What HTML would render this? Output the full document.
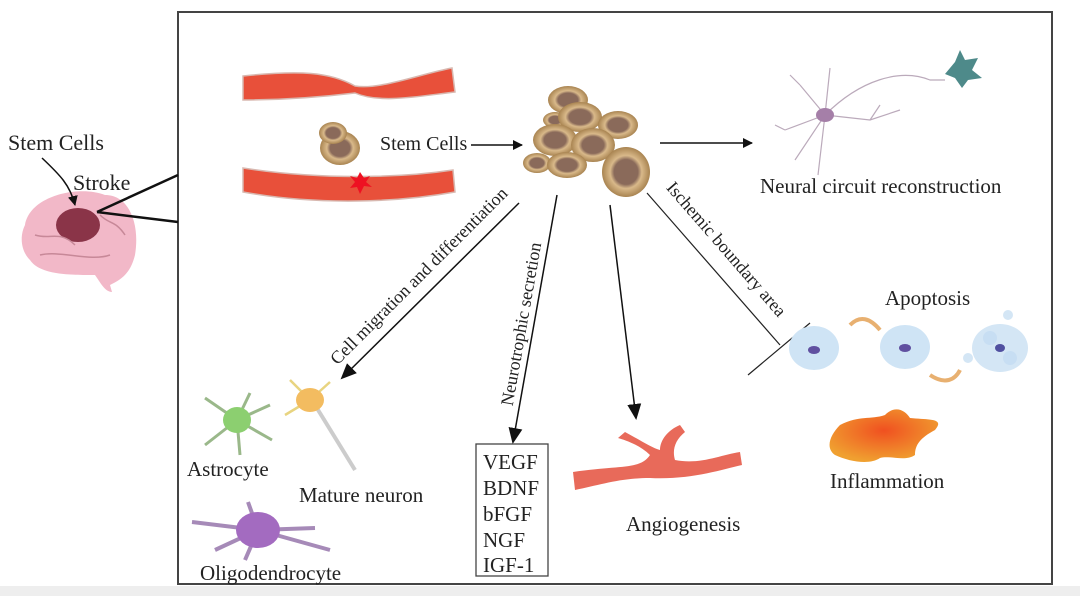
<!DOCTYPE html>
<html><head><meta charset="utf-8"><style>
html,body{margin:0;padding:0;background:#fff;}
svg{display:block;}
text{font-family:"Liberation Serif",serif;fill:#222;}
</style></head><body>
<svg width="1080" height="596" viewBox="0 0 1080 596" xmlns="http://www.w3.org/2000/svg">
<defs>
<marker id="ah" markerWidth="10" markerHeight="10" refX="9" refY="5" orient="auto" markerUnits="userSpaceOnUse">
<path d="M0,0 L10,5 L0,10 z" fill="#111"/></marker>
<marker id="ahb" markerWidth="16" markerHeight="14" refX="14" refY="7" orient="auto" markerUnits="userSpaceOnUse">
<path d="M0,0 L16,7 L0,14 z" fill="#111"/></marker>
<radialGradient id="cell" cx="50%" cy="50%" r="55%"><stop offset="0.45" stop-color="#8a6a5a"/><stop offset="0.6" stop-color="#d9b98a"/><stop offset="1" stop-color="#9a7440"/></radialGradient>
<radialGradient id="infl" cx="50%" cy="40%" r="60%"><stop offset="0" stop-color="#f05020"/><stop offset="1" stop-color="#f0a030"/></radialGradient>
</defs>
<rect x="0" y="586" width="1080" height="10" fill="#eeeeee"/>
<rect x="178" y="12" width="874" height="572" fill="none" stroke="#444" stroke-width="2"/>

<!-- brain -->
<g>
<path d="M25,225 C30,195 80,185 105,195 C130,195 140,225 135,255 C130,275 120,280 110,285 L112,292 C105,292 100,282 95,275 C70,275 40,275 30,260 C20,250 20,235 25,225 z" fill="#f2b8c8"/>
<ellipse cx="78" cy="225" rx="22" ry="17" fill="#8a3448"/>
<path d="M35,235 C50,240 60,230 75,245 M40,255 C60,250 90,262 110,255 M100,215 C110,225 115,220 125,235" stroke="#c78898" fill="none" stroke-width="1.5"/>
</g>
<text x="8" y="150" font-size="22">Stem Cells</text>
<text x="73" y="190" font-size="22">Stroke</text>
<path d="M42,158 C60,175 70,185 75,205" stroke="#111" fill="none" stroke-width="1.5" marker-end="url(#ah)"/>
<line x1="97" y1="212" x2="178" y2="175" stroke="#111" stroke-width="2.5"/>
<line x1="97" y1="212" x2="178" y2="222" stroke="#111" stroke-width="2.5"/>

<!-- vessels -->
<path d="M243,76 C300,70 330,72 355,86 C380,90 420,74 452,68 L455,92 C420,96 380,104 355,93 C330,96 290,100 243,100 z" fill="#e8503a" stroke="#d8b8b0" stroke-width="1.5"/>
<path d="M243,168 C320,180 400,178 453,170 L455,192 C400,202 320,206 243,192 z" fill="#e8503a" stroke="#d8b8b0" stroke-width="1.5"/>
<polygon points="360,172 364,178 370,176 366,182 372,187 364,186 360,194 357,187 350,188 355,182 350,176 357,178" fill="#ee1122"/>
<ellipse cx="340" cy="148" rx="20" ry="17" fill="url(#cell)"/>
<ellipse cx="333" cy="133" rx="14" ry="11" fill="url(#cell)"/>
<text x="380" y="150" font-size="20">Stem Cells</text>
<line x1="471" y1="145" x2="522" y2="145" stroke="#111" stroke-width="1.5" marker-end="url(#ah)"/>

<!-- cluster -->
<g>
<ellipse cx="568" cy="100" rx="20" ry="14" fill="url(#cell)"/>
<ellipse cx="555" cy="120" rx="12" ry="8" fill="url(#cell)"/>
<ellipse cx="580" cy="117" rx="22" ry="15" fill="url(#cell)"/>
<ellipse cx="618" cy="125" rx="20" ry="14" fill="url(#cell)"/>
<ellipse cx="555" cy="140" rx="22" ry="16" fill="url(#cell)"/>
<ellipse cx="593" cy="145" rx="22" ry="17" fill="url(#cell)"/>
<ellipse cx="537" cy="163" rx="14" ry="10" fill="url(#cell)"/>
<ellipse cx="567" cy="165" rx="20" ry="13" fill="url(#cell)"/>
<ellipse cx="626" cy="172" rx="24" ry="25" fill="url(#cell)"/>
</g>
<line x1="660" y1="143" x2="752" y2="143" stroke="#111" stroke-width="1.5" marker-end="url(#ah)"/>

<!-- neuron -->
<g stroke="#bbaabb" fill="none" stroke-width="1.2">
<path d="M825,115 L800,85 M825,115 L830,68 M825,115 L785,130 M825,115 L795,160 M825,115 L818,175 M825,115 L870,120 L900,110 M825,115 C860,80 900,68 930,80 L945,80"/>
<path d="M800,85 L790,75 M785,130 L775,125 M870,120 L880,105"/>
</g>
<ellipse cx="825" cy="115" rx="9" ry="7" fill="#a57fa8"/>
<path d="M955,62 L960,50 L965,60 L978,58 L972,70 L982,78 L968,80 L962,88 L955,78 L945,74 z" fill="#4e8a8a"/>
<text x="760" y="193" font-size="21">Neural circuit reconstruction</text>

<!-- diagonal arrows -->
<line x1="519" y1="203" x2="342" y2="378" stroke="#111" stroke-width="1.5" marker-end="url(#ahb)"/>
<text transform="translate(423,280) rotate(-45)" font-size="18" text-anchor="middle">Cell migration and differentiation</text>
<line x1="557" y1="195" x2="513" y2="442" stroke="#111" stroke-width="1.5" marker-end="url(#ahb)"/>
<text transform="translate(527,325) rotate(-80)" font-size="18" text-anchor="middle">Neurotrophic secretion</text>
<line x1="610" y1="205" x2="636" y2="418" stroke="#111" stroke-width="1.5" marker-end="url(#ahb)"/>
<line x1="647" y1="193" x2="780" y2="345" stroke="#222" stroke-width="1.2"/>
<line x1="810" y1="323" x2="748" y2="375" stroke="#222" stroke-width="1.2"/>
<text transform="translate(722,253) rotate(49)" font-size="18" text-anchor="middle">Ischemic boundary area</text>

<!-- glial cells -->
<g stroke="#9ab88a" stroke-width="3" fill="none">
<path d="M237,420 L205,398 M237,420 L250,393 M237,420 L270,405 M237,420 L272,440 M237,420 L240,455 M237,420 L205,445"/>
</g>
<ellipse cx="237" cy="420" rx="14" ry="13" fill="#8ccf70"/>
<g stroke="#e8d480" stroke-width="2.5" fill="none"><path d="M310,400 L290,380 M310,400 L330,382 M310,400 L285,415 M310,400 L325,420"/></g>
<line x1="315" y1="405" x2="355" y2="470" stroke="#ccc" stroke-width="4"/>
<ellipse cx="310" cy="400" rx="14" ry="12" fill="#f3bc60"/>
<text x="187" y="476" font-size="21">Astrocyte</text>
<text x="299" y="502" font-size="21">Mature neuron</text>
<g stroke="#a68ab8" stroke-width="4" fill="none"><path d="M258,530 L192,522 M258,530 L315,528 M258,530 L330,550 M258,530 L215,550 M258,530 L245,560 M258,530 L248,502"/></g>
<ellipse cx="258" cy="530" rx="22" ry="18" fill="#a36bc0"/>
<text x="200" y="580" font-size="21">Oligodendrocyte</text>

<!-- factor box -->
<rect x="476" y="444" width="72" height="132" fill="#fff" stroke="#444" stroke-width="1.3"/>
<text font-size="21" x="483"><tspan x="483" y="469">VEGF</tspan><tspan x="483" y="495">BDNF</tspan><tspan x="483" y="521">bFGF</tspan><tspan x="483" y="547">NGF</tspan><tspan x="483" y="572">IGF-1</tspan></text>

<!-- angiogenesis -->
<path d="M573,472 C620,465 640,470 650,455 C640,445 625,440 618,438 L625,432 C640,440 652,448 660,450 C660,440 668,430 680,425 L685,432 C675,440 672,450 675,460 C700,465 720,455 740,452 L742,465 C720,470 690,480 650,478 C620,478 600,485 575,490 z" fill="#e86a5a"/>
<text x="626" y="531" font-size="21">Angiogenesis</text>

<!-- apoptosis -->
<text x="885" y="305" font-size="21">Apoptosis</text>
<ellipse cx="814" cy="348" rx="25" ry="22" fill="#cfe4f5"/>
<ellipse cx="814" cy="350" rx="6" ry="4" fill="#6050a0"/>
<ellipse cx="905" cy="347" rx="25" ry="22" fill="#cfe4f5"/>
<ellipse cx="905" cy="348" rx="6" ry="4" fill="#6050a0"/>
<path d="M850,325 C860,315 870,318 880,330" stroke="#e8b070" stroke-width="4" fill="none"/>
<path d="M930,375 C945,385 955,380 960,370" stroke="#e8b070" stroke-width="4" fill="none"/>
<ellipse cx="1000" cy="348" rx="28" ry="24" fill="#d4e6f5"/>
<circle cx="990" cy="338" r="7" fill="#c7def3"/><circle cx="1010" cy="358" r="7" fill="#c7def3"/>
<ellipse cx="1000" cy="348" rx="5" ry="4" fill="#5050a0"/>
<circle cx="968" cy="358" r="5" fill="#d4e6f5"/><circle cx="1008" cy="315" r="5" fill="#d4e6f5"/>

<!-- inflammation -->
<path d="M840,425 C860,415 870,420 885,415 C895,405 905,410 910,418 C930,420 945,418 935,430 C920,438 915,445 915,455 C905,462 890,455 880,458 C870,465 850,462 835,455 C825,448 830,435 840,425 z" fill="url(#infl)"/>
<text x="830" y="488" font-size="21">Inflammation</text>
</svg>
</body></html>
